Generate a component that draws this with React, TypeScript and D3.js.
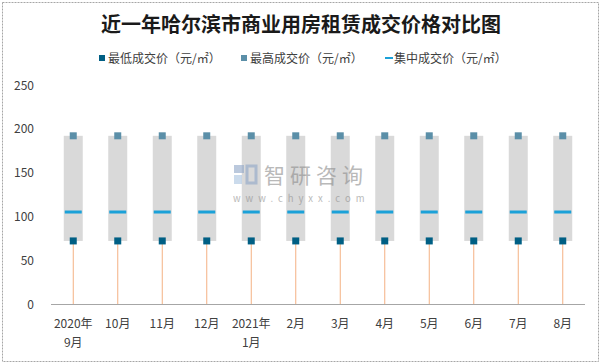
import { useRef, useEffect } from 'react'
import * as d3 from 'd3'

const categories = ['2020年\n9月', '10月', '11月', '12月', '2021年\n1月', '2月', '3月', '4月', '5月', '6月', '7月', '8月']
const lowPrices = [72, 72, 72, 72, 72, 72, 72, 72, 72, 72, 72, 72]
const highPrices = [192, 192, 192, 192, 192, 192, 192, 192, 192, 192, 192, 192]
const midPrices = [105, 105, 105, 105, 105, 105, 105, 105, 105, 105, 105, 105]
const yTicks = [0, 50, 100, 150, 200, 250]
const legendLabels = ['最低成交价（元/㎡）', '最高成交价（元/㎡）', '集中成交价（元/㎡）']

const W = 604
const H = 364
const FONT = '"Noto Sans CJK SC", "Noto Sans", sans-serif'

export default function App() {
  const svgRef = useRef<SVGSVGElement>(null)

  useEffect(() => {
    if (!svgRef.current) return
    const svg = d3.select(svgRef.current)
    svg.selectAll('*').remove()

    // background + frame
    svg.append('rect').attr('width', W).attr('height', H).attr('fill', '#fff')
    svg.append('rect')
      .attr('x', 2.5).attr('y', 2.5).attr('width', 596).attr('height', 359)
      .attr('fill', 'none').attr('stroke', '#a6a6a6').attr('stroke-dasharray', '2,1')

    // scales
    const x = d3.scaleBand<string>().domain(categories).range([51, 585]).padding(0)
    const y = d3.scaleLinear().domain([0, 250]).range([304, 85])
    const boxW = 19
    const mk = 7

    // title
    svg.append('text')
      .attr('x', 301).attr('y', 32)
      .attr('text-anchor', 'middle')
      .attr('font-family', FONT).attr('font-weight', 'bold').attr('font-size', 20)
      .attr('fill', '#1a1a1a')
      .text('近一年哈尔滨市商业用房租赁成交价格对比图')

    // legend
    const legendX = [99, 241, 385]
    const legendColors = ['#005f84', '#5b8fa8', '#1ba1d8']
    const lg = svg.append('g').attr('font-family', FONT).attr('font-size', 12).attr('fill', '#404040')
    legendLabels.forEach((label, i) => {
      if (i < 2) {
        lg.append('rect').attr('x', legendX[i]).attr('y', 55).attr('width', 6).attr('height', 6).attr('fill', legendColors[i])
      } else {
        lg.append('rect').attr('x', legendX[i]).attr('y', 57).attr('width', 8).attr('height', 2).attr('fill', legendColors[i])
      }
      lg.append('text').attr('x', legendX[i] + 9).attr('y', 62.5).text(label)
    })

    // y tick labels
    svg.append('g').selectAll('text')
      .data(yTicks).enter().append('text')
      .attr('x', 34).attr('y', d => y(d) + 4.5)
      .attr('text-anchor', 'end')
      .attr('font-family', FONT).attr('font-size', 12).attr('fill', '#404040')
      .text(d => d)

    const idx = d3.range(categories.length)
    const cx = (i: number) => (x(categories[i]) as number) + x.bandwidth() / 2

    // grey range boxes
    svg.append('g').selectAll('rect')
      .data(idx).enter().append('rect')
      .attr('x', i => cx(i) - boxW / 2)
      .attr('y', i => y(highPrices[i]))
      .attr('width', boxW)
      .attr('height', i => y(lowPrices[i]) - y(highPrices[i]))
      .attr('fill', '#d9d9d9')

    // drop lines
    svg.append('g').selectAll('line')
      .data(idx).enter().append('line')
      .attr('x1', i => cx(i)).attr('x2', i => cx(i))
      .attr('y1', y(0)).attr('y2', i => y(lowPrices[i]))
      .attr('stroke', '#f4b183').attr('stroke-width', 1)

    // x axis line
    svg.append('line')
      .attr('x1', 51).attr('x2', 585).attr('y1', y(0) + 0.5).attr('y2', y(0) + 0.5)
      .attr('stroke', '#a6a6a6').attr('stroke-width', 1)

    // median lines
    svg.append('g').selectAll('rect')
      .data(idx).enter().append('rect')
      .attr('x', i => cx(i) - boxW / 2 + 1)
      .attr('y', i => y(midPrices[i]) - 1.5)
      .attr('width', boxW - 2).attr('height', 3)
      .attr('fill', '#1ba1d8')

    // high markers
    svg.append('g').selectAll('rect')
      .data(idx).enter().append('rect')
      .attr('x', i => cx(i) - mk / 2).attr('y', i => y(highPrices[i]) - mk / 2)
      .attr('width', mk).attr('height', mk)
      .attr('fill', '#5b8fa8')

    // low markers
    svg.append('g').selectAll('rect')
      .data(idx).enter().append('rect')
      .attr('x', i => cx(i) - mk / 2).attr('y', i => y(lowPrices[i]) - mk / 2)
      .attr('width', mk).attr('height', mk)
      .attr('fill', '#005f84')

    // x labels
    const xl = svg.append('g').attr('font-family', FONT).attr('font-size', 12).attr('fill', '#404040')
    categories.forEach(c => {
      const lines = c.split('\n')
      const t = xl.append('text').attr('text-anchor', 'middle')
      lines.forEach((ln, j) => {
        t.append('tspan').attr('x', (x(c) as number) + x.bandwidth() / 2).attr('y', 328 + j * 19).text(ln)
      })
    })

    // watermark on top
    const wm = svg.append('g').attr('opacity', 0.6)
    wm.append('rect').attr('x', 234).attr('y', 165).attr('width', 10).attr('height', 8).attr('fill', '#8fa6c8')
    wm.append('rect').attr('x', 234).attr('y', 175).attr('width', 8).attr('height', 9).attr('fill', '#a9c4e0')
    wm.append('rect').attr('x', 247).attr('y', 166).attr('width', 9).attr('height', 17).attr('fill', 'none')
      .attr('stroke', '#8fa6c8').attr('stroke-width', 3)
    wm.append('text').attr('x', 264).attr('y', 183)
      .attr('font-family', FONT).attr('font-size', 21).attr('letter-spacing', 5).attr('fill', '#8c8c8c')
      .text('智研咨询')
    wm.append('text').attr('x', 233).attr('y', 202)
      .attr('font-family', FONT).attr('font-size', 9.5).attr('letter-spacing', 5).attr('fill', '#8c8c8c')
      .text('www.chyxx.com')
  }, [])

  return (
    <svg
      ref={svgRef}
      width={W}
      height={H}
      style={{ position: 'absolute', left: 0, top: 0 }}
    />
  )
}
